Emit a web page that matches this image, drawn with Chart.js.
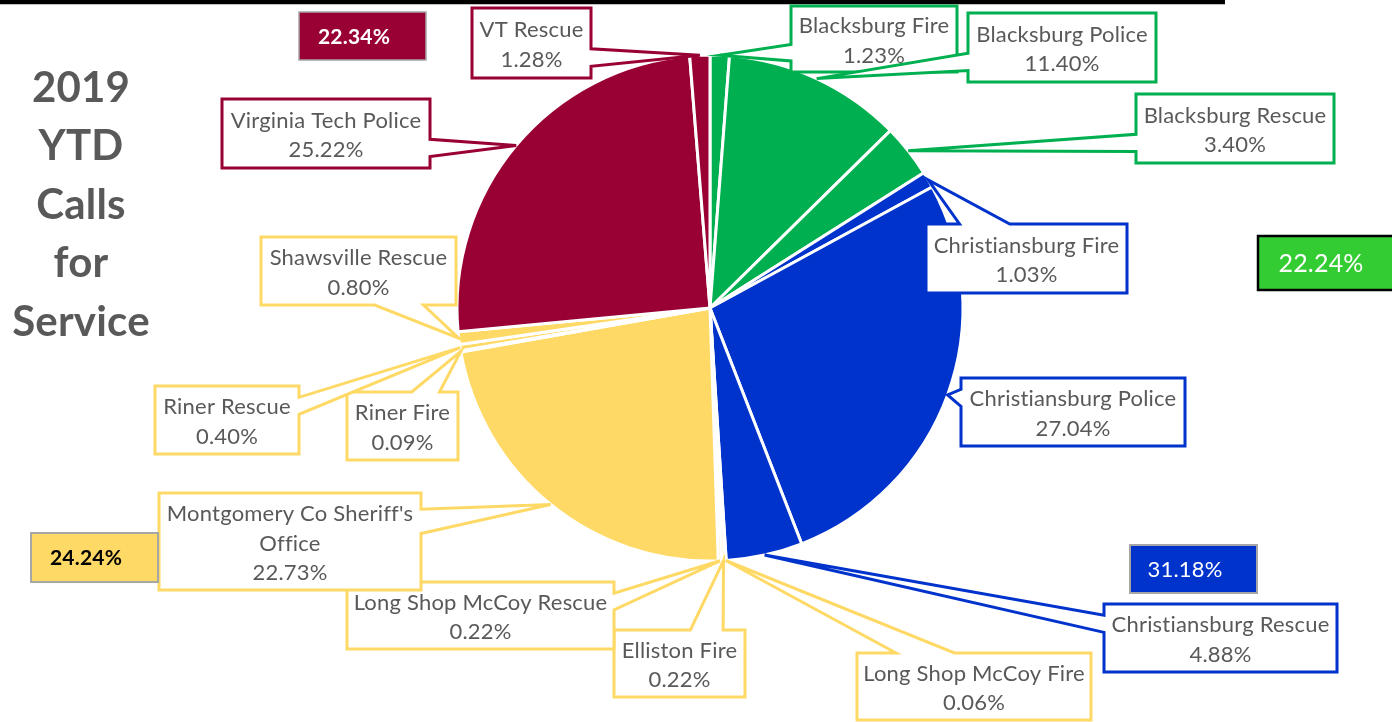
<!DOCTYPE html>
<html>
<head>
<meta charset="utf-8">
<script src="https://cdn.jsdelivr.net/npm/chart.js@4/dist/chart.umd.min.js"></script>
<style>
    body { margin: 0; background: #ffffff; }
    #chart { display: block; }
</style>
</head>
<body>
<canvas id="chart" width="1392" height="722"></canvas>
<script>
// Agencies, clockwise from 12 o'clock
let categories = ['Blacksburg Fire', 'Blacksburg Police', 'Blacksburg Rescue',
    'Christiansburg Fire', 'Christiansburg Police', 'Christiansburg Rescue',
    'Long Shop McCoy Fire', 'Elliston Fire', 'Long Shop McCoy Rescue',
    "Montgomery Co Sheriff's Office", 'Riner Fire', 'Riner Rescue', 'Shawsville Rescue',
    'Virginia Tech Police', 'VT Rescue'];
let values = [1.23, 11.40, 3.40, 1.03, 27.04, 4.88, 0.06, 0.22, 0.22, 22.73, 0.09, 0.40, 0.80, 25.22, 1.28];
let groups = ['blacksburg', 'blacksburg', 'blacksburg', 'christiansburg', 'christiansburg', 'christiansburg',
    'county', 'county', 'county', 'county', 'county', 'county', 'county', 'vt', 'vt'];
let groupTotals = ['22.34%', '22.24%', '31.18%', '24.24%']; // vt, blacksburg, christiansburg, county
let titleLines = ['2019', 'YTD', 'Calls', 'for', 'Service'];

let groupColors = {
    blacksburg: '#00B050',
    christiansburg: '#0033CC',
    county: '#FFD966',
    vt: '#990033'
};

// Callout boxes [x, y, w, h], same order as categories
let boxes = [
    [791, 6, 166, 66], [968, 13, 188, 69], [1136, 94, 198, 69],
    [926, 224, 201, 69], [961, 378, 224, 68], [1104, 604, 233, 68],
    [857, 653, 234, 67], [614, 630, 131, 67], [347, 582, 267, 67],
    [159, 493, 262, 97], [347, 392, 111, 68], [155, 386, 144, 68],
    [261, 237, 195, 68], [222, 99, 208, 69], [472, 8, 119, 70]
];

function Core()
{
    InitChart();
}

function WrapText(ctx, text, maxWidth)
{
    let words = text.split(' ');
    let lines = [];
    let line = '';

    for (let i = 0; i < words.length; i++)
    {
        let test = line ? line + ' ' + words[i] : words[i];
        if (ctx.measureText(test).width > maxWidth && line)
        {
            lines.push(line);
            line = words[i];
        }
        else
        {
            line = test;
        }
    }
    lines.push(line);
    return lines;
}

function DrawCallout(ctx, box, tip, color, lines)
{
    let x = box[0], y = box[1], w = box[2], h = box[3];
    let dx = tip.x - (x + w / 2);
    let dy = tip.y - (y + h / 2);
    let side = null;

    if (Math.abs(dx) / w > Math.abs(dy) / h)
    {
        if (Math.abs(dx) > w / 2) side = dx < 0 ? 'left' : 'right';
    }
    else
    {
        if (Math.abs(dy) > h / 2) side = dy < 0 ? 'top' : 'bottom';
    }

    let fx = dx < 0 ? [2 / 12, 5 / 12] : [7 / 12, 10 / 12];
    let fy = dy < 0 ? [2 / 12, 5 / 12] : [7 / 12, 10 / 12];

    ctx.beginPath();
    ctx.moveTo(x, y);
    if (side == 'top')
    {
        ctx.lineTo(x + w * fx[0], y);
        ctx.lineTo(tip.x, tip.y);
        ctx.lineTo(x + w * fx[1], y);
    }
    ctx.lineTo(x + w, y);
    if (side == 'right')
    {
        ctx.lineTo(x + w, y + h * fy[0]);
        ctx.lineTo(tip.x, tip.y);
        ctx.lineTo(x + w, y + h * fy[1]);
    }
    ctx.lineTo(x + w, y + h);
    if (side == 'bottom')
    {
        ctx.lineTo(x + w * fx[1], y + h);
        ctx.lineTo(tip.x, tip.y);
        ctx.lineTo(x + w * fx[0], y + h);
    }
    ctx.lineTo(x, y + h);
    if (side == 'left')
    {
        ctx.lineTo(x, y + h * fy[1]);
        ctx.lineTo(tip.x, tip.y);
        ctx.lineTo(x, y + h * fy[0]);
    }
    ctx.closePath();

    ctx.fillStyle = '#ffffff';
    ctx.fill();
    ctx.lineWidth = 3;
    ctx.lineJoin = 'miter';
    ctx.strokeStyle = color;
    ctx.stroke();

    // Text lines
    ctx.fillStyle = '#595959';
    ctx.textAlign = 'center';
    ctx.textBaseline = 'middle';
    let lineH = 29.5;
    let top = y + h / 2 - (lines.length - 1) * lineH / 2 + 2;
    for (let i = 0; i < lines.length; i++)
    {
        ctx.fillText(lines[i], x + w / 2, top + i * lineH);
    }
}

function DrawTotalBox(ctx, rect, fill, border, borderWidth, text, font, textColor, textX)
{
    ctx.fillStyle = fill;
    ctx.fillRect(rect[0], rect[1], rect[2], rect[3]);
    ctx.lineWidth = borderWidth;
    ctx.strokeStyle = border;
    ctx.strokeRect(rect[0], rect[1], rect[2], rect[3]);

    ctx.font = font;
    ctx.fillStyle = textColor;
    ctx.textAlign = 'center';
    ctx.textBaseline = 'middle';
    ctx.fillText(text, textX, rect[1] + rect[3] / 2 + 1);
}

let calloutPlugin = {
    id: 'callouts',
    afterDatasetsDraw(chart)
    {
        let ctx = chart.ctx;
        let arcs = chart.getDatasetMeta(0).data;

        ctx.save();
        ctx.letterSpacing = '0.2px'; // keeps Lato from joining "ti"

        // Top rule
        ctx.fillStyle = '#000000';
        ctx.fillRect(0, 0, 1225, 4);
        ctx.fillStyle = '#BFBFBF';
        ctx.fillRect(0, 4, 1225, 1);

        // Title
        ctx.font = 'bold 42px Lato';
        ctx.fillStyle = '#595959';
        ctx.textAlign = 'center';
        ctx.textBaseline = 'middle';
        for (let i = 0; i < titleLines.length; i++)
        {
            ctx.fillText(titleLines[i], 81, 88 + i * 58.5);
        }

        // Callouts from slice mid-angle on the rim
        for (let i = 0; i < arcs.length; i++)
        {
            let arc = arcs[i];
            let mid = (arc.startAngle + arc.endAngle) / 2;
            let tip = {
                x: arc.x + Math.cos(mid) * arc.outerRadius,
                y: arc.y + Math.sin(mid) * arc.outerRadius
            };
            let box = boxes[i];
            ctx.font = '22px Lato';
            let lines = WrapText(ctx, categories[i], box[2] - 4);
            lines.push(values[i].toFixed(2) + '%');
            DrawCallout(ctx, box, tip, groupColors[groups[i]], lines);
        }

        // Group totals
        DrawTotalBox(ctx, [299, 12, 127, 48], groupColors.vt, '#A6A6A6', 1.5, groupTotals[0], 'bold 21px Lato', '#ffffff', 354);
        DrawTotalBox(ctx, [1258, 236, 140, 54], '#33CC33', '#000000', 2.5, groupTotals[1], '25px Lato', '#ffffff', 1321);
        DrawTotalBox(ctx, [1130, 545, 127, 48], groupColors.christiansburg, '#A6A6A6', 2, groupTotals[2], '22px Lato', '#ffffff', 1185);
        DrawTotalBox(ctx, [31, 533, 127, 49], groupColors.county, '#A6A6A6', 2, groupTotals[3], 'bold 21px Lato', '#000000', 86);

        ctx.restore();
    }
};

function InitChart()
{
    let chart = document.getElementById('chart').getContext('2d');

    new Chart(chart, {
        type: 'pie',
        data: {
            labels: categories,
            datasets: [
                {
                    data: values,
                    backgroundColor: groups.map(g => groupColors[g]),
                    borderColor: '#ffffff',
                    borderWidth: 3,
                    hoverOffset: 0
                }
            ]
        },
        options: {
            responsive: false,
            animation: false,
            radius: 253,
            layout: {
                padding: { left: 28, right: 0, top: 0, bottom: 106 }
            },
            plugins: {
                legend: { display: false },
                tooltip: { enabled: false }
            }
        },
        plugins: [calloutPlugin]
    });
}

Core();
</script>
</body>
</html>
